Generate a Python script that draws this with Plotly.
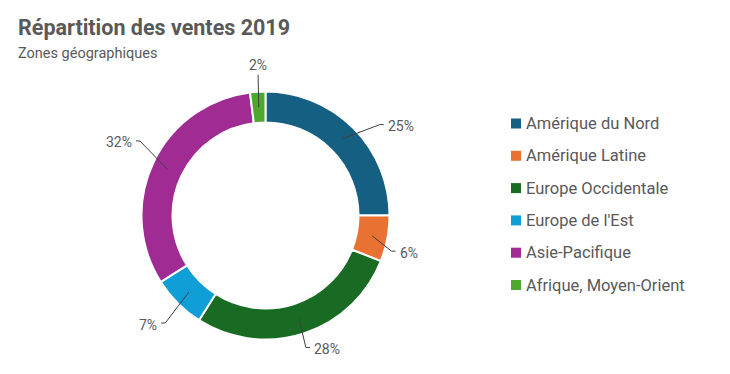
import math
import plotly.graph_objects as go

# ---- data ----
categories = ["Amérique du Nord", "Amérique Latine", "Europe Occidentale",
              "Europe de l'Est", "Asie-Pacifique", "Afrique, Moyen-Orient"]
shares = [25, 6, 28, 7, 32, 2]
colors = ["#156082", "#E97132", "#196B24", "#0F9ED5", "#A02B93", "#4EA72E"]

title_text = "Répartition des ventes 2019"
subtitle_text = "Zones géographiques"

# ---- layout / style ----
W, H = 730, 374
OFF = 8  # page body margin of the exported html
CX, CY, R = 265.5, 215.5, 124.0
HOLE = 0.75
FONT = "Roboto"
GREY = "#595959"
# leader-line elbow placement (angle nudge in degrees, radius in px)
leader_nudge = [6.5, 5.0, 1.0, -2.0, 5.5, 0.6]
leader_radius = [146, 131, 138, 147, 146, 141]


def px(x):
    return (x - OFF) / W


def py(y):
    return 1 - (y - OFF) / H


fig = go.Figure()
fig.add_trace(go.Pie(
    labels=categories, values=shares, sort=False, direction="clockwise",
    rotation=0, hole=HOLE, textinfo="none", hoverinfo="label+percent",
    marker=dict(colors=colors, line=dict(color="white", width=2)),
    domain=dict(x=[px(CX - R), px(CX + R)], y=[py(CY + R), py(CY - R)]),
    showlegend=False,
))

shapes = []
annotations = []
total = sum(shares)
cum = 0.0
r_mid = R * (1 + HOLE) / 2
for i, v in enumerate(shares):
    frac_mid = (cum + v / 2) / total
    cum += v
    a = math.radians(frac_mid * 360)
    sx, sy = CX + r_mid * math.sin(a), CY - r_mid * math.cos(a)
    a2 = math.radians(frac_mid * 360 + leader_nudge[i])
    ex, ey = CX + leader_radius[i] * math.sin(a2), CY - leader_radius[i] * math.cos(a2)
    label = f"{round(v / total * 100)}%"
    if abs(math.sin(a2)) < 0.2:
        path = f"M {px(sx)} {py(sy)} L {px(ex)} {py(ey)}"
        ty = ey - 10 if math.cos(a2) > 0 else ey + 10
        annotations.append(dict(x=px(ex), y=py(ty), xref="paper", yref="paper",
                                text=label, showarrow=False, xanchor="center",
                                yanchor="middle",
                                font=dict(family=FONT, size=14, color=GREY)))
    else:
        side = 1 if math.sin(a2) > 0 else -1
        tx = ex + side * 4
        path = f"M {px(sx)} {py(sy)} L {px(ex)} {py(ey)} L {px(tx)} {py(ey)}"
        annotations.append(dict(x=px(tx + side * 2), y=py(ey + 1.5), xref="paper",
                                yref="paper", text=label, showarrow=False,
                                xanchor="left" if side > 0 else "right",
                                yanchor="middle",
                                font=dict(family=FONT, size=14, color=GREY)))
    shapes.append(dict(type="path", path=path, xref="paper", yref="paper",
                       line=dict(color="#404040", width=1)))

# custom legend
LX, LY0, LDY = 511, 123.5, 32.3
for i, (c, name) in enumerate(zip(colors, categories)):
    y = LY0 + i * LDY
    shapes.append(dict(type="rect", xref="paper", yref="paper",
                       x0=px(LX), x1=px(LX + 10), y0=py(y + 5), y1=py(y - 5),
                       fillcolor=c, line=dict(width=0)))
    annotations.append(dict(x=px(LX + 13), y=py(y), xref="paper", yref="paper",
                            text=name, showarrow=False, xanchor="left",
                            yanchor="middle",
                            font=dict(family=FONT, size=16.5, color=GREY)))

annotations.append(dict(x=px(16), y=py(28), xref="paper", yref="paper",
                        text=f"<b>{title_text}</b>", showarrow=False,
                        xanchor="left", yanchor="middle",
                        font=dict(family=FONT, size=21.5, color=GREY)))
annotations.append(dict(x=px(16), y=py(53), xref="paper", yref="paper",
                        text=subtitle_text, showarrow=False,
                        xanchor="left", yanchor="middle",
                        font=dict(family=FONT, size=14.5, color=GREY)))

fig.update_layout(
    width=W, height=H, autosize=False,
    margin=dict(l=0, r=0, t=0, b=0),
    paper_bgcolor="white", plot_bgcolor="white",
    shapes=shapes, annotations=annotations,
    font=dict(family=FONT, color=GREY),
)

fig.write_html("out.html")
